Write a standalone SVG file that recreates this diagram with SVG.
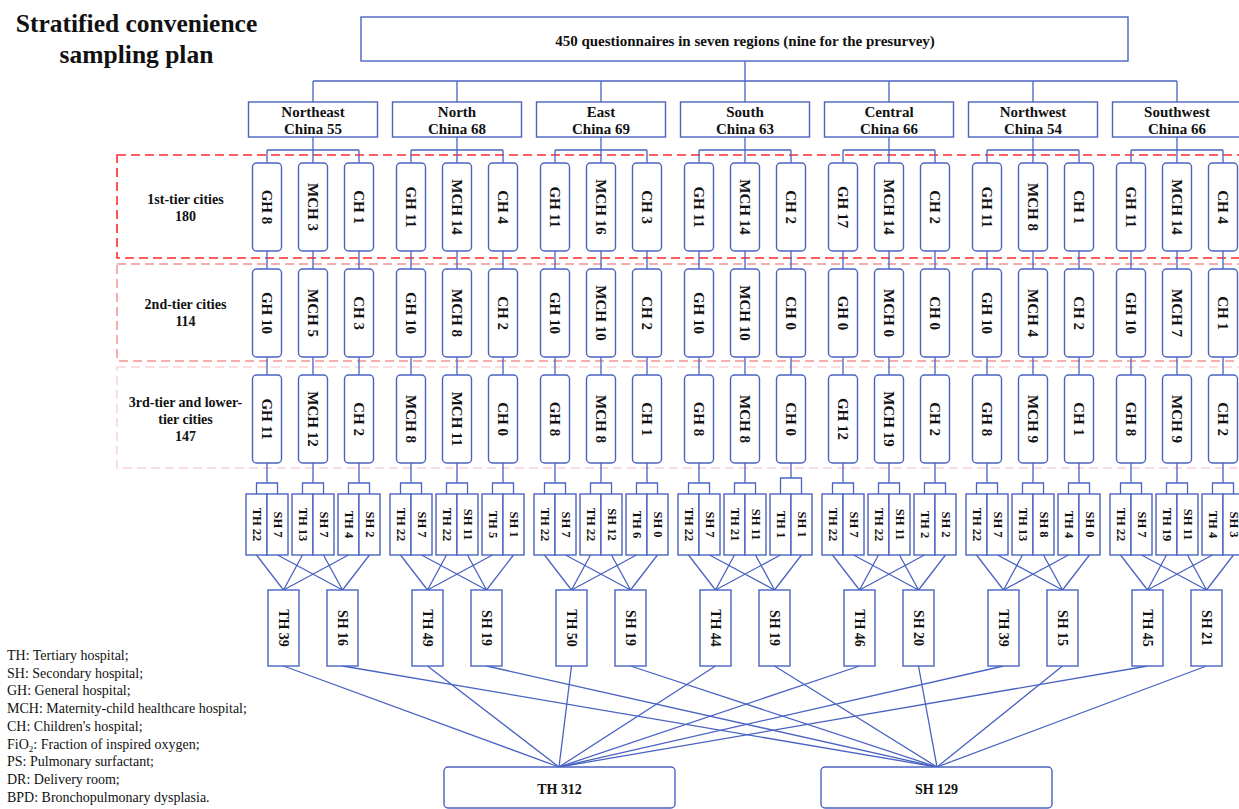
<svg xmlns="http://www.w3.org/2000/svg" width="1239" height="809" viewBox="0 0 1239 809">
<style>
.b{fill:#fff;stroke:#4a63c2;stroke-width:1.4}
.tb{fill:#fff;stroke:#4a63c2;stroke-width:1.4}
.ln{fill:none;stroke:#4a63c2;stroke-width:1.3}
text{font-family:"Liberation Serif","Times New Roman",serif;fill:#111}
.bt{font-weight:bold;font-size:14px;text-anchor:middle}
.tt{font-weight:bold;font-size:15px;text-anchor:middle}
.rg{font-weight:bold;font-size:15px;text-anchor:middle}
.v{font-weight:bold;font-size:15px;text-anchor:middle;dominant-baseline:central}
.p{font-weight:bold;font-size:12.5px;text-anchor:middle;dominant-baseline:central}
.g{font-weight:bold;font-size:14px;text-anchor:middle;dominant-baseline:central}
.tl{font-weight:bold;font-size:14px;text-anchor:middle}
.lg{font-size:14px}
.ti{font-weight:bold;font-size:25.5px;text-anchor:middle}
.d1{fill:none;stroke:#ff2a2a;stroke-width:1.6;stroke-dasharray:9 5}
.d2{fill:none;stroke:#f29494;stroke-width:1.5;stroke-dasharray:9 5}
.d3{fill:none;stroke:#fad2d2;stroke-width:1.5;stroke-dasharray:9 5}
</style>
<rect width="1239" height="809" fill="#fff"/>
<g id="title"><text class="ti" x="136.5" y="32">Stratified convenience</text><text class="ti" x="136.5" y="63">sampling plan</text></g>
<g id="tier-frames">
<rect class="d1" x="117" y="155" width="1140" height="103"/>
<rect class="d2" x="117" y="264" width="1140" height="97"/>
<rect class="d3" x="117" y="367" width="1140" height="101"/>
</g>
<g id="tier-labels">
<text class="tl" x="185.5" y="204">1st-tier cities</text><text class="tl" x="185.5" y="221">180</text>
<text class="tl" x="185.5" y="309">2nd-tier cities</text><text class="tl" x="185.5" y="326">114</text>
<text class="tl" x="185.5" y="407">3rd-tier and lower-</text><text class="tl" x="185.5" y="424">tier cities</text><text class="tl" x="185.5" y="441">147</text>
</g>
<g id="legend">
<text class="lg" x="7" y="660">TH: Tertiary hospital;</text>
<text class="lg" x="7" y="677.7">SH: Secondary hospital;</text>
<text class="lg" x="7" y="695.4">GH: General hospital;</text>
<text class="lg" x="7" y="713.1">MCH: Maternity-child healthcare hospital;</text>
<text class="lg" x="7" y="730.8">CH: Children's hospital;</text>
<text class="lg" x="7" y="748.5">FiO<tspan font-size="9" dy="3">2</tspan><tspan dy="-3">: Fraction of inspired oxygen;</tspan></text>
<text class="lg" x="7" y="766.2">PS: Pulmonary surfactant;</text>
<text class="lg" x="7" y="783.9">DR: Delivery room;</text>
<text class="lg" x="7" y="801.6">BPD: Bronchopulmonary dysplasia.</text>
</g>
<g id="connectors" class="ln">
<path d="M745 61V102M313 81H1177M313 81V102M457 81V102M601 81V102M889 81V102M1033 81V102M1177 81V102"/>
<path d="M313 137V163M267 150H359M267 150V163M359 150V163M267 251V269M313 251V269M359 251V269M267 357V375M313 357V375M359 357V375M267 463V483M313 463V483M359 463V483M256.5 494V483H277.5V494M302.5 494V483H323.5V494M348.5 494V483H369.5V494M256.5 555L283.5 590M302.5 555L283.5 590M348.5 555L283.5 590M277.5 555L342.5 590M323.5 555L342.5 590M369.5 555L342.5 590M283.5 666L559 767M342.5 666L937 767"/>
<path d="M457 137V163M411 150H503M411 150V163M503 150V163M411 251V269M457 251V269M503 251V269M411 357V375M457 357V375M503 357V375M411 463V483M457 463V483M503 463V483M400.5 494V483H421.5V494M446.5 494V483H467.5V494M492.5 494V483H513.5V494M400.5 555L427.5 590M446.5 555L427.5 590M492.5 555L427.5 590M421.5 555L486.5 590M467.5 555L486.5 590M513.5 555L486.5 590M427.5 666L559 767M486.5 666L937 767"/>
<path d="M601 137V163M555 150H647M555 150V163M647 150V163M555 251V269M601 251V269M647 251V269M555 357V375M601 357V375M647 357V375M555 463V483M601 463V483M647 463V483M544.5 494V483H565.5V494M590.5 494V483H611.5V494M636.5 494V483H657.5V494M544.5 555L571.5 590M590.5 555L571.5 590M636.5 555L571.5 590M565.5 555L630.5 590M611.5 555L630.5 590M657.5 555L630.5 590M571.5 666L559 767M630.5 666L937 767"/>
<path d="M745 137V163M699 150H791M699 150V163M791 150V163M699 251V269M745 251V269M791 251V269M699 357V375M745 357V375M791 357V375M699 463V483M745 463V483M791 463V478M688.5 494V483H709.5V494M734.5 494V483H755.5V494M780.5 494V478H801.5V494M688.5 555L715.5 590M734.5 555L715.5 590M780.5 555L715.5 590M709.5 555L774.5 590M755.5 555L774.5 590M801.5 555L774.5 590M715.5 666L559 767M774.5 666L937 767"/>
<path d="M889 137V163M843 150H935M843 150V163M935 150V163M843 251V269M889 251V269M935 251V269M843 357V375M889 357V375M935 357V375M843 463V483M889 463V483M935 463V483M832.5 494V483H853.5V494M878.5 494V483H899.5V494M924.5 494V483H945.5V494M832.5 555L859.5 590M878.5 555L859.5 590M924.5 555L859.5 590M853.5 555L918.5 590M899.5 555L918.5 590M945.5 555L918.5 590M859.5 666L559 767M918.5 666L937 767"/>
<path d="M1033 137V163M987 150H1079M987 150V163M1079 150V163M987 251V269M1033 251V269M1079 251V269M987 357V375M1033 357V375M1079 357V375M987 463V483M1033 463V483M1079 463V483M976.5 494V483H997.5V494M1022.5 494V483H1043.5V494M1068.5 494V483H1089.5V494M976.5 555L1003.5 590M1022.5 555L1003.5 590M1068.5 555L1003.5 590M997.5 555L1062.5 590M1043.5 555L1062.5 590M1089.5 555L1062.5 590M1003.5 666L559 767M1062.5 666L937 767"/>
<path d="M1177 137V163M1131 150H1223M1131 150V163M1223 150V163M1131 251V269M1177 251V269M1223 251V269M1131 357V375M1177 357V375M1223 357V375M1131 463V483M1177 463V483M1223 463V483M1120.5 494V483H1141.5V494M1166.5 494V483H1187.5V494M1212.5 494V483H1233.5V494M1120.5 555L1147.5 590M1166.5 555L1147.5 590M1212.5 555L1147.5 590M1141.5 555L1206.5 590M1187.5 555L1206.5 590M1233.5 555L1206.5 590M1147.5 666L559 767M1206.5 666L937 767"/>
</g>
<g id="top"><rect class="b" x="361" y="17" width="767" height="44"/><text class="tt" x="745" y="46">450 questionnaires in seven regions (nine for the presurvey)</text></g>
<g id="r-ne"><rect class="b" x="248.5" y="102" width="129" height="35"/><text class="rg" x="313" y="117">Northeast</text><text class="rg" x="313" y="134">China 55</text></g>
<g id="r-n"><rect class="b" x="392.5" y="102" width="129" height="35"/><text class="rg" x="457" y="117">North</text><text class="rg" x="457" y="134">China 68</text></g>
<g id="r-e"><rect class="b" x="536.5" y="102" width="129" height="35"/><text class="rg" x="601" y="117">East</text><text class="rg" x="601" y="134">China 69</text></g>
<g id="r-s"><rect class="b" x="680.5" y="102" width="129" height="35"/><text class="rg" x="745" y="117">South</text><text class="rg" x="745" y="134">China 63</text></g>
<g id="r-c"><rect class="b" x="824.5" y="102" width="129" height="35"/><text class="rg" x="889" y="117">Central</text><text class="rg" x="889" y="134">China 66</text></g>
<g id="r-nw"><rect class="b" x="968.5" y="102" width="129" height="35"/><text class="rg" x="1033" y="117">Northwest</text><text class="rg" x="1033" y="134">China 54</text></g>
<g id="r-sw"><rect class="b" x="1112.5" y="102" width="129" height="35"/><text class="rg" x="1177" y="117">Southwest</text><text class="rg" x="1177" y="134">China 66</text></g>

<g id="ne-t1-gh"><rect class="tb" x="252.5" y="163" width="29" height="88" rx="4"/><text class="v" transform="translate(267 207) rotate(90)">GH 8</text></g>
<g id="ne-t1-mch"><rect class="tb" x="298.5" y="163" width="29" height="88" rx="4"/><text class="v" transform="translate(313 207) rotate(90)">MCH 3</text></g>
<g id="ne-t1-ch"><rect class="tb" x="344.5" y="163" width="29" height="88" rx="4"/><text class="v" transform="translate(359 207) rotate(90)">CH 1</text></g>
<g id="ne-t2-gh"><rect class="tb" x="252.5" y="269" width="29" height="88" rx="4"/><text class="v" transform="translate(267 313) rotate(90)">GH 10</text></g>
<g id="ne-t2-mch"><rect class="tb" x="298.5" y="269" width="29" height="88" rx="4"/><text class="v" transform="translate(313 313) rotate(90)">MCH 5</text></g>
<g id="ne-t2-ch"><rect class="tb" x="344.5" y="269" width="29" height="88" rx="4"/><text class="v" transform="translate(359 313) rotate(90)">CH 3</text></g>
<g id="ne-t3-gh"><rect class="tb" x="252.5" y="375" width="29" height="88" rx="4"/><text class="v" transform="translate(267 419) rotate(90)">GH 11</text></g>
<g id="ne-t3-mch"><rect class="tb" x="298.5" y="375" width="29" height="88" rx="4"/><text class="v" transform="translate(313 419) rotate(90)">MCH 12</text></g>
<g id="ne-t3-ch"><rect class="tb" x="344.5" y="375" width="29" height="88" rx="4"/><text class="v" transform="translate(359 419) rotate(90)">CH 2</text></g>

<g id="n-t1-gh"><rect class="tb" x="396.5" y="163" width="29" height="88" rx="4"/><text class="v" transform="translate(411 207) rotate(90)">GH 11</text></g>
<g id="n-t1-mch"><rect class="tb" x="442.5" y="163" width="29" height="88" rx="4"/><text class="v" transform="translate(457 207) rotate(90)">MCH 14</text></g>
<g id="n-t1-ch"><rect class="tb" x="488.5" y="163" width="29" height="88" rx="4"/><text class="v" transform="translate(503 207) rotate(90)">CH 4</text></g>
<g id="n-t2-gh"><rect class="tb" x="396.5" y="269" width="29" height="88" rx="4"/><text class="v" transform="translate(411 313) rotate(90)">GH 10</text></g>
<g id="n-t2-mch"><rect class="tb" x="442.5" y="269" width="29" height="88" rx="4"/><text class="v" transform="translate(457 313) rotate(90)">MCH 8</text></g>
<g id="n-t2-ch"><rect class="tb" x="488.5" y="269" width="29" height="88" rx="4"/><text class="v" transform="translate(503 313) rotate(90)">CH 2</text></g>
<g id="n-t3-gh"><rect class="tb" x="396.5" y="375" width="29" height="88" rx="4"/><text class="v" transform="translate(411 419) rotate(90)">MCH 8</text></g>
<g id="n-t3-mch"><rect class="tb" x="442.5" y="375" width="29" height="88" rx="4"/><text class="v" transform="translate(457 419) rotate(90)">MCH 11</text></g>
<g id="n-t3-ch"><rect class="tb" x="488.5" y="375" width="29" height="88" rx="4"/><text class="v" transform="translate(503 419) rotate(90)">CH 0</text></g>

<g id="e-t1-gh"><rect class="tb" x="540.5" y="163" width="29" height="88" rx="4"/><text class="v" transform="translate(555 207) rotate(90)">GH 11</text></g>
<g id="e-t1-mch"><rect class="tb" x="586.5" y="163" width="29" height="88" rx="4"/><text class="v" transform="translate(601 207) rotate(90)">MCH 16</text></g>
<g id="e-t1-ch"><rect class="tb" x="632.5" y="163" width="29" height="88" rx="4"/><text class="v" transform="translate(647 207) rotate(90)">CH 3</text></g>
<g id="e-t2-gh"><rect class="tb" x="540.5" y="269" width="29" height="88" rx="4"/><text class="v" transform="translate(555 313) rotate(90)">GH 10</text></g>
<g id="e-t2-mch"><rect class="tb" x="586.5" y="269" width="29" height="88" rx="4"/><text class="v" transform="translate(601 313) rotate(90)">MCH 10</text></g>
<g id="e-t2-ch"><rect class="tb" x="632.5" y="269" width="29" height="88" rx="4"/><text class="v" transform="translate(647 313) rotate(90)">CH 2</text></g>
<g id="e-t3-gh"><rect class="tb" x="540.5" y="375" width="29" height="88" rx="4"/><text class="v" transform="translate(555 419) rotate(90)">GH 8</text></g>
<g id="e-t3-mch"><rect class="tb" x="586.5" y="375" width="29" height="88" rx="4"/><text class="v" transform="translate(601 419) rotate(90)">MCH 8</text></g>
<g id="e-t3-ch"><rect class="tb" x="632.5" y="375" width="29" height="88" rx="4"/><text class="v" transform="translate(647 419) rotate(90)">CH 1</text></g>

<g id="s-t1-gh"><rect class="tb" x="684.5" y="163" width="29" height="88" rx="4"/><text class="v" transform="translate(699 207) rotate(90)">GH 11</text></g>
<g id="s-t1-mch"><rect class="tb" x="730.5" y="163" width="29" height="88" rx="4"/><text class="v" transform="translate(745 207) rotate(90)">MCH 14</text></g>
<g id="s-t1-ch"><rect class="tb" x="776.5" y="163" width="29" height="88" rx="4"/><text class="v" transform="translate(791 207) rotate(90)">CH 2</text></g>
<g id="s-t2-gh"><rect class="tb" x="684.5" y="269" width="29" height="88" rx="4"/><text class="v" transform="translate(699 313) rotate(90)">GH 10</text></g>
<g id="s-t2-mch"><rect class="tb" x="730.5" y="269" width="29" height="88" rx="4"/><text class="v" transform="translate(745 313) rotate(90)">MCH 10</text></g>
<g id="s-t2-ch"><rect class="tb" x="776.5" y="269" width="29" height="88" rx="4"/><text class="v" transform="translate(791 313) rotate(90)">CH 0</text></g>
<g id="s-t3-gh"><rect class="tb" x="684.5" y="375" width="29" height="88" rx="4"/><text class="v" transform="translate(699 419) rotate(90)">GH 8</text></g>
<g id="s-t3-mch"><rect class="tb" x="730.5" y="375" width="29" height="88" rx="4"/><text class="v" transform="translate(745 419) rotate(90)">MCH 8</text></g>
<g id="s-t3-ch"><rect class="tb" x="776.5" y="375" width="29" height="88" rx="4"/><text class="v" transform="translate(791 419) rotate(90)">CH 0</text></g>

<g id="c-t1-gh"><rect class="tb" x="828.5" y="163" width="29" height="88" rx="4"/><text class="v" transform="translate(843 207) rotate(90)">GH 17</text></g>
<g id="c-t1-mch"><rect class="tb" x="874.5" y="163" width="29" height="88" rx="4"/><text class="v" transform="translate(889 207) rotate(90)">MCH 14</text></g>
<g id="c-t1-ch"><rect class="tb" x="920.5" y="163" width="29" height="88" rx="4"/><text class="v" transform="translate(935 207) rotate(90)">CH 2</text></g>
<g id="c-t2-gh"><rect class="tb" x="828.5" y="269" width="29" height="88" rx="4"/><text class="v" transform="translate(843 313) rotate(90)">GH 0</text></g>
<g id="c-t2-mch"><rect class="tb" x="874.5" y="269" width="29" height="88" rx="4"/><text class="v" transform="translate(889 313) rotate(90)">MCH 0</text></g>
<g id="c-t2-ch"><rect class="tb" x="920.5" y="269" width="29" height="88" rx="4"/><text class="v" transform="translate(935 313) rotate(90)">CH 0</text></g>
<g id="c-t3-gh"><rect class="tb" x="828.5" y="375" width="29" height="88" rx="4"/><text class="v" transform="translate(843 419) rotate(90)">GH 12</text></g>
<g id="c-t3-mch"><rect class="tb" x="874.5" y="375" width="29" height="88" rx="4"/><text class="v" transform="translate(889 419) rotate(90)">MCH 19</text></g>
<g id="c-t3-ch"><rect class="tb" x="920.5" y="375" width="29" height="88" rx="4"/><text class="v" transform="translate(935 419) rotate(90)">CH 2</text></g>

<g id="nw-t1-gh"><rect class="tb" x="972.5" y="163" width="29" height="88" rx="4"/><text class="v" transform="translate(987 207) rotate(90)">GH 11</text></g>
<g id="nw-t1-mch"><rect class="tb" x="1018.5" y="163" width="29" height="88" rx="4"/><text class="v" transform="translate(1033 207) rotate(90)">MCH 8</text></g>
<g id="nw-t1-ch"><rect class="tb" x="1064.5" y="163" width="29" height="88" rx="4"/><text class="v" transform="translate(1079 207) rotate(90)">CH 1</text></g>
<g id="nw-t2-gh"><rect class="tb" x="972.5" y="269" width="29" height="88" rx="4"/><text class="v" transform="translate(987 313) rotate(90)">GH 10</text></g>
<g id="nw-t2-mch"><rect class="tb" x="1018.5" y="269" width="29" height="88" rx="4"/><text class="v" transform="translate(1033 313) rotate(90)">MCH 4</text></g>
<g id="nw-t2-ch"><rect class="tb" x="1064.5" y="269" width="29" height="88" rx="4"/><text class="v" transform="translate(1079 313) rotate(90)">CH 2</text></g>
<g id="nw-t3-gh"><rect class="tb" x="972.5" y="375" width="29" height="88" rx="4"/><text class="v" transform="translate(987 419) rotate(90)">GH 8</text></g>
<g id="nw-t3-mch"><rect class="tb" x="1018.5" y="375" width="29" height="88" rx="4"/><text class="v" transform="translate(1033 419) rotate(90)">MCH 9</text></g>
<g id="nw-t3-ch"><rect class="tb" x="1064.5" y="375" width="29" height="88" rx="4"/><text class="v" transform="translate(1079 419) rotate(90)">CH 1</text></g>

<g id="sw-t1-gh"><rect class="tb" x="1116.5" y="163" width="29" height="88" rx="4"/><text class="v" transform="translate(1131 207) rotate(90)">GH 11</text></g>
<g id="sw-t1-mch"><rect class="tb" x="1162.5" y="163" width="29" height="88" rx="4"/><text class="v" transform="translate(1177 207) rotate(90)">MCH 14</text></g>
<g id="sw-t1-ch"><rect class="tb" x="1208.5" y="163" width="29" height="88" rx="4"/><text class="v" transform="translate(1223 207) rotate(90)">CH 4</text></g>
<g id="sw-t2-gh"><rect class="tb" x="1116.5" y="269" width="29" height="88" rx="4"/><text class="v" transform="translate(1131 313) rotate(90)">GH 10</text></g>
<g id="sw-t2-mch"><rect class="tb" x="1162.5" y="269" width="29" height="88" rx="4"/><text class="v" transform="translate(1177 313) rotate(90)">MCH 7</text></g>
<g id="sw-t2-ch"><rect class="tb" x="1208.5" y="269" width="29" height="88" rx="4"/><text class="v" transform="translate(1223 313) rotate(90)">CH 1</text></g>
<g id="sw-t3-gh"><rect class="tb" x="1116.5" y="375" width="29" height="88" rx="4"/><text class="v" transform="translate(1131 419) rotate(90)">GH 8</text></g>
<g id="sw-t3-mch"><rect class="tb" x="1162.5" y="375" width="29" height="88" rx="4"/><text class="v" transform="translate(1177 419) rotate(90)">MCH 9</text></g>
<g id="sw-t3-ch"><rect class="tb" x="1208.5" y="375" width="29" height="88" rx="4"/><text class="v" transform="translate(1223 419) rotate(90)">CH 2</text></g>

<g id="ne-p1-th"><rect class="b" x="246" y="494" width="21" height="61"/><text class="p" transform="translate(256.5 524.5) rotate(90)">TH 22</text></g>
<g id="ne-p1-sh"><rect class="b" x="267" y="494" width="21" height="61"/><text class="p" transform="translate(277.5 524.5) rotate(90)">SH 7</text></g>
<g id="ne-p2-th"><rect class="b" x="292" y="494" width="21" height="61"/><text class="p" transform="translate(302.5 524.5) rotate(90)">TH 13</text></g>
<g id="ne-p2-sh"><rect class="b" x="313" y="494" width="21" height="61"/><text class="p" transform="translate(323.5 524.5) rotate(90)">SH 7</text></g>
<g id="ne-p3-th"><rect class="b" x="338" y="494" width="21" height="61"/><text class="p" transform="translate(348.5 524.5) rotate(90)">TH 4</text></g>
<g id="ne-p3-sh"><rect class="b" x="359" y="494" width="21" height="61"/><text class="p" transform="translate(369.5 524.5) rotate(90)">SH 2</text></g>

<g id="n-p1-th"><rect class="b" x="390" y="494" width="21" height="61"/><text class="p" transform="translate(400.5 524.5) rotate(90)">TH 22</text></g>
<g id="n-p1-sh"><rect class="b" x="411" y="494" width="21" height="61"/><text class="p" transform="translate(421.5 524.5) rotate(90)">SH 7</text></g>
<g id="n-p2-th"><rect class="b" x="436" y="494" width="21" height="61"/><text class="p" transform="translate(446.5 524.5) rotate(90)">TH 22</text></g>
<g id="n-p2-sh"><rect class="b" x="457" y="494" width="21" height="61"/><text class="p" transform="translate(467.5 524.5) rotate(90)">SH 11</text></g>
<g id="n-p3-th"><rect class="b" x="482" y="494" width="21" height="61"/><text class="p" transform="translate(492.5 524.5) rotate(90)">TH 5</text></g>
<g id="n-p3-sh"><rect class="b" x="503" y="494" width="21" height="61"/><text class="p" transform="translate(513.5 524.5) rotate(90)">SH 1</text></g>

<g id="e-p1-th"><rect class="b" x="534" y="494" width="21" height="61"/><text class="p" transform="translate(544.5 524.5) rotate(90)">TH 22</text></g>
<g id="e-p1-sh"><rect class="b" x="555" y="494" width="21" height="61"/><text class="p" transform="translate(565.5 524.5) rotate(90)">SH 7</text></g>
<g id="e-p2-th"><rect class="b" x="580" y="494" width="21" height="61"/><text class="p" transform="translate(590.5 524.5) rotate(90)">TH 22</text></g>
<g id="e-p2-sh"><rect class="b" x="601" y="494" width="21" height="61"/><text class="p" transform="translate(611.5 524.5) rotate(90)">SH 12</text></g>
<g id="e-p3-th"><rect class="b" x="626" y="494" width="21" height="61"/><text class="p" transform="translate(636.5 524.5) rotate(90)">TH 6</text></g>
<g id="e-p3-sh"><rect class="b" x="647" y="494" width="21" height="61"/><text class="p" transform="translate(657.5 524.5) rotate(90)">SH 0</text></g>

<g id="s-p1-th"><rect class="b" x="678" y="494" width="21" height="61"/><text class="p" transform="translate(688.5 524.5) rotate(90)">TH 22</text></g>
<g id="s-p1-sh"><rect class="b" x="699" y="494" width="21" height="61"/><text class="p" transform="translate(709.5 524.5) rotate(90)">SH 7</text></g>
<g id="s-p2-th"><rect class="b" x="724" y="494" width="21" height="61"/><text class="p" transform="translate(734.5 524.5) rotate(90)">TH 21</text></g>
<g id="s-p2-sh"><rect class="b" x="745" y="494" width="21" height="61"/><text class="p" transform="translate(755.5 524.5) rotate(90)">SH 11</text></g>
<g id="s-p3-th"><rect class="b" x="770" y="494" width="21" height="61"/><text class="p" transform="translate(780.5 524.5) rotate(90)">TH 1</text></g>
<g id="s-p3-sh"><rect class="b" x="791" y="494" width="21" height="61"/><text class="p" transform="translate(801.5 524.5) rotate(90)">SH 1</text></g>

<g id="c-p1-th"><rect class="b" x="822" y="494" width="21" height="61"/><text class="p" transform="translate(832.5 524.5) rotate(90)">TH 22</text></g>
<g id="c-p1-sh"><rect class="b" x="843" y="494" width="21" height="61"/><text class="p" transform="translate(853.5 524.5) rotate(90)">SH 7</text></g>
<g id="c-p2-th"><rect class="b" x="868" y="494" width="21" height="61"/><text class="p" transform="translate(878.5 524.5) rotate(90)">TH 22</text></g>
<g id="c-p2-sh"><rect class="b" x="889" y="494" width="21" height="61"/><text class="p" transform="translate(899.5 524.5) rotate(90)">SH 11</text></g>
<g id="c-p3-th"><rect class="b" x="914" y="494" width="21" height="61"/><text class="p" transform="translate(924.5 524.5) rotate(90)">TH 2</text></g>
<g id="c-p3-sh"><rect class="b" x="935" y="494" width="21" height="61"/><text class="p" transform="translate(945.5 524.5) rotate(90)">SH 2</text></g>

<g id="nw-p1-th"><rect class="b" x="966" y="494" width="21" height="61"/><text class="p" transform="translate(976.5 524.5) rotate(90)">TH 22</text></g>
<g id="nw-p1-sh"><rect class="b" x="987" y="494" width="21" height="61"/><text class="p" transform="translate(997.5 524.5) rotate(90)">SH 7</text></g>
<g id="nw-p2-th"><rect class="b" x="1012" y="494" width="21" height="61"/><text class="p" transform="translate(1022.5 524.5) rotate(90)">TH 13</text></g>
<g id="nw-p2-sh"><rect class="b" x="1033" y="494" width="21" height="61"/><text class="p" transform="translate(1043.5 524.5) rotate(90)">SH 8</text></g>
<g id="nw-p3-th"><rect class="b" x="1058" y="494" width="21" height="61"/><text class="p" transform="translate(1068.5 524.5) rotate(90)">TH 4</text></g>
<g id="nw-p3-sh"><rect class="b" x="1079" y="494" width="21" height="61"/><text class="p" transform="translate(1089.5 524.5) rotate(90)">SH 0</text></g>

<g id="sw-p1-th"><rect class="b" x="1110" y="494" width="21" height="61"/><text class="p" transform="translate(1120.5 524.5) rotate(90)">TH 22</text></g>
<g id="sw-p1-sh"><rect class="b" x="1131" y="494" width="21" height="61"/><text class="p" transform="translate(1141.5 524.5) rotate(90)">SH 7</text></g>
<g id="sw-p2-th"><rect class="b" x="1156" y="494" width="21" height="61"/><text class="p" transform="translate(1166.5 524.5) rotate(90)">TH 19</text></g>
<g id="sw-p2-sh"><rect class="b" x="1177" y="494" width="21" height="61"/><text class="p" transform="translate(1187.5 524.5) rotate(90)">SH 11</text></g>
<g id="sw-p3-th"><rect class="b" x="1202" y="494" width="21" height="61"/><text class="p" transform="translate(1212.5 524.5) rotate(90)">TH 4</text></g>
<g id="sw-p3-sh"><rect class="b" x="1223" y="494" width="21" height="61"/><text class="p" transform="translate(1233.5 524.5) rotate(90)">SH 3</text></g>

<g id="ne-th"><rect class="b" x="268" y="590" width="31" height="76"/><text class="g" transform="translate(283.5 628) rotate(90)">TH 39</text></g>
<g id="ne-sh"><rect class="b" x="327" y="590" width="31" height="76"/><text class="g" transform="translate(342.5 628) rotate(90)">SH 16</text></g>
<g id="n-th"><rect class="b" x="412" y="590" width="31" height="76"/><text class="g" transform="translate(427.5 628) rotate(90)">TH 49</text></g>
<g id="n-sh"><rect class="b" x="471" y="590" width="31" height="76"/><text class="g" transform="translate(486.5 628) rotate(90)">SH 19</text></g>
<g id="e-th"><rect class="b" x="556" y="590" width="31" height="76"/><text class="g" transform="translate(571.5 628) rotate(90)">TH 50</text></g>
<g id="e-sh"><rect class="b" x="615" y="590" width="31" height="76"/><text class="g" transform="translate(630.5 628) rotate(90)">SH 19</text></g>
<g id="s-th"><rect class="b" x="700" y="590" width="31" height="76"/><text class="g" transform="translate(715.5 628) rotate(90)">TH 44</text></g>
<g id="s-sh"><rect class="b" x="759" y="590" width="31" height="76"/><text class="g" transform="translate(774.5 628) rotate(90)">SH 19</text></g>
<g id="c-th"><rect class="b" x="844" y="590" width="31" height="76"/><text class="g" transform="translate(859.5 628) rotate(90)">TH 46</text></g>
<g id="c-sh"><rect class="b" x="903" y="590" width="31" height="76"/><text class="g" transform="translate(918.5 628) rotate(90)">SH 20</text></g>
<g id="nw-th"><rect class="b" x="988" y="590" width="31" height="76"/><text class="g" transform="translate(1003.5 628) rotate(90)">TH 39</text></g>
<g id="nw-sh"><rect class="b" x="1047" y="590" width="31" height="76"/><text class="g" transform="translate(1062.5 628) rotate(90)">SH 15</text></g>
<g id="sw-th"><rect class="b" x="1132" y="590" width="31" height="76"/><text class="g" transform="translate(1147.5 628) rotate(90)">TH 45</text></g>
<g id="sw-sh"><rect class="b" x="1191" y="590" width="31" height="76"/><text class="g" transform="translate(1206.5 628) rotate(90)">SH 21</text></g>

<g id="total-th"><rect class="b" x="444" y="767" width="231" height="41" rx="4"/><text class="bt" x="559.5" y="794">TH 312</text></g>
<g id="total-sh"><rect class="b" x="821" y="767" width="231" height="41" rx="4"/><text class="bt" x="936.5" y="794">SH 129</text></g>
</svg>
